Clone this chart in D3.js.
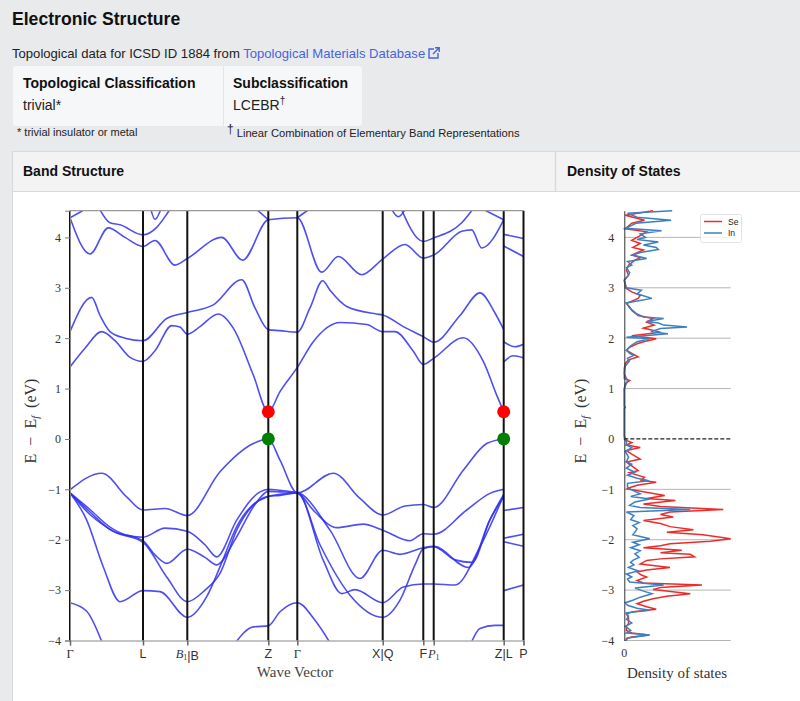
<!DOCTYPE html>
<html>
<meta charset="utf-8">
<script src="https://d3js.org/d3.v7.min.js"></script>
<style>
  body { margin: 0; background: #e9eaec; overflow: hidden; }
  svg text { font-family: "Liberation Sans", Arial, sans-serif; }
</style>
<body>
<div id="page"></div>
<script>

// ---- data ----
var kPos = [0, 0.73, 1.173, 1.983, 2.273, 3.127, 3.533, 3.637, 4.337, 4.535];
var kLabels = ["Γ", "L", "B1|B", "Z", "Γ", "X|Q", "F", "P1", "Z|L", "P"];
var energyTicks = [-4, -3, -2, -1, 0, 1, 2, 3, 4];

// bands along Γ-L-B1|B-Z-Γ-X|Q-F-P1-Z
var conductionBands = [
  [[0,1.43],[0.15,1.8],[0.317,2.13],[0.45,1.95],[0.6,1.62],[0.73,1.54],[0.85,1.75],[1.017,2.25],[1.1,2.22],[1.173,2.08],[1.3,2.23],[1.483,2.48],[1.633,2.2],[1.833,1.27],[1.983,0.54],
   [2.1,0.94],[2.273,1.42],[2.433,1.93],[2.7,2.31],[2.967,2.27],[3.127,2.13],[3.25,2.13],[3.433,1.74],[3.533,1.48],[3.637,1.6],[3.933,2.01],[4.133,1.54],[4.267,0.87],[4.337,0.54]],
  [[0,2.13],[0.217,2.81],[0.3,2.45],[0.4,2.13],[0.55,2.0],[0.73,1.95],[0.967,2.39],[1.173,2.51],[1.433,2.66],[1.717,3.16],[1.85,2.6],[1.983,2.17],
   [2.1,2.15],[2.273,2.12],[2.4,2.6],[2.527,3.14],[2.6,2.95],[2.767,2.63],[3.067,2.48],[3.127,2.46],[3.333,2.23],[3.533,2.03],[3.637,1.92],[3.9,2.45],[4.1,2.9],[4.25,2.5],[4.337,2.17]],
  [[0,4.39],[0.2,3.67],[0.383,4.19],[0.55,4.0],[0.73,3.82],[0.85,3.94],[1.05,3.45],[1.173,3.58],[1.517,4.0],[1.727,3.55],[1.983,4.35],
   [2.273,4.39],[2.517,3.31],[2.683,3.62],[2.917,3.26],[3.127,3.57],[3.35,3.86],[3.533,3.59],[3.637,3.65],[3.917,4.12],[4.017,4.15],[4.117,3.79],[4.337,4.35]],
  [[0,4.39],[0.1,4.5],[0.2,4.62]],
  [[0.28,4.62],[0.4,4.29],[0.5,4.25],[0.73,4.05],[0.867,4.2],[0.967,4.46],[1.02,4.62]],
  [[0.8,4.62],[0.85,4.36],[0.92,4.62]],
  [[1.83,4.62],[1.983,4.35]],
  [[2.273,4.39],[2.35,4.5],[2.45,4.62]],
  [[3.2,4.62],[3.283,4.41],[3.37,4.62]],
  [[3.3,4.62],[3.533,3.92],[3.637,3.99],[3.917,4.29],[4.05,4.62]],
  [[4.07,4.62],[4.337,4.35]]
];

var valenceBands = [
  [[0,-1.01],[0.317,-0.68],[0.567,-1.15],[0.73,-1.41],[0.95,-1.38],[1.173,-1.52],[1.5,-0.65],[1.833,-0.09],[1.983,0],
   [2.1,-0.42],[2.273,-1.07],[2.633,-0.68],[2.9,-1.18],[3.127,-1.51],[3.35,-1.33],[3.533,-1.30],[3.637,-1.36],[3.933,-0.62],[4.167,-0.09],[4.337,0]],
  [[0,-1.07],[0.2,-1.4],[0.4,-1.75],[0.55,-1.9],[0.73,-1.95],[0.95,-1.77],[1.173,-1.83],[1.35,-2.1],[1.467,-2.34],[1.667,-1.61],[1.9,-1.05],[1.983,-1.0],
   [2.1,-1.02],[2.273,-1.07],[2.45,-1.45],[2.667,-1.76],[2.933,-1.69],[3.127,-1.81],[3.4,-2.02],[3.533,-1.88],[3.637,-1.89],[3.967,-1.41],[4.2,-1.08],[4.337,-1.0]],
  [[0,-1.07],[0.2,-1.45],[0.4,-1.8],[0.73,-2.02],[0.85,-2.3],[0.967,-2.47],[1.173,-2.19],[1.35,-2.35],[1.467,-2.5],[1.65,-2.0],[1.85,-1.3],[1.983,-1.04],
   [2.1,-1.05],[2.273,-1.07],[2.6,-1.81],[2.9,-2.77],[3.127,-2.21],[3.3,-2.29],[3.533,-2.16],[3.637,-2.13],[3.983,-2.55],[4.2,-1.6],[4.337,-1.14]],
  [[0,-1.07],[0.2,-1.5],[0.45,-1.85],[0.73,-2.05],[0.967,-2.74],[1.173,-3.23],[1.35,-3.0],[1.5,-2.67],[1.667,-1.81],[1.9,-1.2],[1.983,-1.14],
   [2.1,-1.12],[2.273,-1.07],[2.533,-2.41],[2.717,-3.07],[2.85,-2.99],[3.127,-3.25],[3.333,-2.94],[3.533,-2.88],[3.637,-2.88],[3.85,-2.9],[4.1,-2.14],[4.337,-1.12]],
  [[0,-1.07],[0.167,-1.61],[0.333,-2.54],[0.5,-3.23],[0.73,-3.01],[0.9,-3.03],[1.173,-3.54],[1.367,-3.13],[1.5,-2.54],[1.667,-1.74],[1.983,-1.14],
   [2.1,-1.1],[2.273,-1.07],[2.5,-2.1],[2.8,-3.1],[3.127,-3.54],[3.3,-3.2],[3.45,-2.5],[3.533,-2.18],[3.637,-2.14],[3.85,-2.4],[4.02,-2.45],[4.2,-1.6],[4.337,-1.1]],
  [[0,-3.25],[0.167,-3.42],[0.333,-4.1]],
  [[1.633,-4.1],[1.833,-3.73],[1.983,-3.71],[2.1,-3.43],[2.273,-3.25],[2.45,-3.6],[2.617,-4.1]],
  [[4.0,-4.1],[4.1,-3.76],[4.25,-3.70],[4.337,-3.70]]
];

// short L-P segment after Z|L
var lastSegmentBands = [
  [[4.337,4.06],[4.535,3.98]],
  [[4.337,3.83],[4.535,3.62]],
  [[4.337,1.93],[4.45,1.83],[4.535,1.88]],
  [[4.337,1.53],[4.43,1.65],[4.535,1.61]],
  [[4.337,-1.42],[4.535,-1.36]],
  [[4.337,-1.97],[4.535,-1.89]],
  [[4.337,-2.04],[4.535,-2.13]],
  [[4.337,-3.01],[4.535,-2.90]]
];

var cbmPoints = [[1.983, 0.54], [4.337, 0.54]];
var vbmPoints = [[1.983, 0], [4.337, 0]];

// density of states [energy, value]
var dosSe = [[4.53,0.27],[4.44,0.01],[4.34,0.19],[4.28,0.07],[4.17,0.01],[4.11,0.21],[4.0,0.12],[3.94,0.07],[3.88,0.15],[3.8,0.08],[3.75,0.18],[3.65,0.07],[3.6,0.15],[3.55,0.1],[3.45,0.04],[3.35,0.02],[3.25,0.04],[3.15,0],[3.0,0.01],[2.92,0.07],[2.85,0.15],[2.79,0.13],[2.69,0.02],[2.62,0.05],[2.55,0.07],[2.45,0.13],[2.39,0.27],[2.32,0.21],[2.26,0.28],[2.2,0.18],[2.12,0.34],[2.05,0.07],[1.99,0.3],[1.93,0.18],[1.89,0.12],[1.82,0.05],[1.76,0.02],[1.7,0.07],[1.63,0.13],[1.57,0.04],[1.5,0.01],[1.4,0],[1.2,0],[1.16,0.05],[1.1,0.01],[1.0,0],[0.05,0],
  [-0.03,0.02],[-0.07,0.07],[-0.12,0.02],[-0.17,0.15],[-0.23,0.02],[-0.3,0.07],[-0.4,0.15],[-0.46,0.02],[-0.55,0.08],[-0.63,0.13],[-0.67,0.05],[-0.76,0.19],[-0.82,0.16],[-0.86,0.3],[-0.92,0.12],[-0.99,0.02],[-1.05,0.18],[-1.12,0.38],[-1.18,0.21],[-1.22,0.48],[-1.29,0.18],[-1.34,0.34],[-1.4,0.93],[-1.45,0.43],[-1.5,0.34],[-1.55,0.46],[-1.62,0.18],[-1.68,0.34],[-1.74,0.43],[-1.8,0.65],[-1.85,0.4],[-1.9,0.74],[-1.98,1.0],[-2.03,0.81],[-2.08,0.43],[-2.12,0.34],[-2.16,0.18],[-2.21,0.54],[-2.26,0.34],[-2.29,0.62],[-2.34,0.66],[-2.38,0.34],[-2.41,0.21],[-2.48,0.15],[-2.55,0.43],[-2.6,0.21],[-2.64,0.12],[-2.7,0.16],[-2.74,0.21],[-2.81,0.12],[-2.86,0.18],[-2.9,0.73],[-2.95,0.34],[-2.99,0.27],[-3.07,0.62],[-3.12,0.4],[-3.17,0.27],[-3.22,0.18],[-3.27,0.12],[-3.33,0.21],[-3.38,0.3],[-3.43,0.08],[-3.47,0.02],[-3.55,0.04],[-3.66,0.04],[-3.72,0.02],[-3.8,0.02],[-3.85,0.07],[-3.89,0.23],[-3.93,0.07],[-3.96,0.02],[-4.05,0.01]];

var dosIn = [[4.53,0.45],[4.48,0.03],[4.4,0.12],[4.34,0.44],[4.28,0.11],[4.22,0.05],[4.18,0.01],[4.13,0.35],[4.07,0.15],[4.0,0.2],[3.96,0.12],[3.91,0.32],[3.85,0.18],[3.8,0.3],[3.76,0.32],[3.7,0.15],[3.65,0.08],[3.58,0.21],[3.52,0.03],[3.45,0.07],[3.4,0.02],[3.3,0.05],[3.25,0.04],[3.15,0],[3.0,0.02],[2.95,0.16],[2.88,0.12],[2.79,0.26],[2.7,0.02],[2.6,0.05],[2.55,0.08],[2.48,0.12],[2.42,0.18],[2.39,0.37],[2.33,0.21],[2.3,0.32],[2.26,0.37],[2.22,0.59],[2.19,0.34],[2.13,0.25],[2.09,0.41],[2.02,0.02],[1.99,0.24],[1.93,0.12],[1.85,0.06],[1.76,0.02],[1.7,0.05],[1.66,0.09],[1.6,0.03],[1.55,0.05],[1.45,0.01],[1.3,0],[1.15,0.03],[1.1,0.02],[1.0,0],[0.66,0],[0.63,0.01],[0.6,0],[0.0,0],
  [-0.05,0.02],[-0.12,0.02],[-0.17,0.07],[-0.25,0.01],[-0.36,0.04],[-0.45,0.02],[-0.5,0.07],[-0.58,0.02],[-0.66,0.1],[-0.72,0.03],[-0.78,0.12],[-0.83,0.23],[-0.88,0.03],[-0.95,0.03],[-1.0,0.06],[-1.09,0.15],[-1.14,0.06],[-1.19,0.24],[-1.25,0.1],[-1.32,0.05],[-1.36,0.15],[-1.4,0.62],[-1.45,0.02],[-1.52,0.09],[-1.6,0.06],[-1.66,0.14],[-1.72,0.08],[-1.78,0.12],[-1.82,0.11],[-1.9,0.08],[-1.98,0.24],[-2.05,0.08],[-2.1,0.14],[-2.16,0.06],[-2.22,0.15],[-2.28,0.1],[-2.35,0.14],[-2.41,0.08],[-2.45,0.06],[-2.5,0.09],[-2.55,0.04],[-2.62,0.13],[-2.68,0.02],[-2.74,0.07],[-2.78,0.03],[-2.84,0.05],[-2.9,0.37],[-2.96,0.1],[-3.02,0.18],[-3.07,0.26],[-3.14,0.15],[-3.2,0.08],[-3.25,0.01],[-3.3,0.03],[-3.36,0.12],[-3.4,0.24],[-3.45,0.02],[-3.52,0.04],[-3.58,0.02],[-3.65,0.07],[-3.72,0.01],[-3.8,0.06],[-3.85,0.02],[-3.89,0.24],[-3.95,0.03],[-4.05,0.01]];

// ---- page ----
var svg = d3.select("#page").append("svg")
    .attr("width", 800)
    .attr("height", 701);

svg.append("rect").attr("width", 800).attr("height", 701).attr("fill", "#e9eaec");

svg.append("text").attr("x", 12).attr("y", 24.5)
    .style("font-size", "17.6px").style("font-weight", "bold").attr("fill", "#111")
    .text("Electronic Structure");

var sub = svg.append("text").attr("x", 12).attr("y", 58)
    .style("font-size", "13.1px").attr("fill", "#222");
sub.append("tspan").text("Topological data for ICSD ID 1884 from ");
sub.append("tspan").attr("fill", "#4a62e0").text("Topological Materials Database");

// external link icon
var ic = svg.append("g").attr("transform", "translate(428,47)")
    .attr("fill", "none").attr("stroke", "#4a62e0").attr("stroke-width", 1.4);
ic.append("path").attr("d", "M6,2 H1 V11 H10 V6");
ic.append("path").attr("d", "M7,0.8 H11.2 V5 M11.2,0.8 L5,7");

// classification table
svg.append("rect").attr("x", 13).attr("y", 66).attr("width", 349).attr("height", 60)
    .attr("rx", 3).attr("fill", "#f6f7f8");
svg.append("line").attr("x1", 223.5).attr("x2", 223.5).attr("y1", 66).attr("y2", 126)
    .attr("stroke", "#e4e5e7");
svg.append("text").attr("x", 23).attr("y", 88).style("font-size", "14px").style("font-weight", "bold")
    .attr("fill", "#111").text("Topological Classification");
svg.append("text").attr("x", 233).attr("y", 88).style("font-size", "14px").style("font-weight", "bold")
    .attr("fill", "#111").text("Subclassification");
svg.append("text").attr("x", 23).attr("y", 110).style("font-size", "14px").attr("fill", "#222").text("trivial*");
var lc = svg.append("text").attr("x", 233).attr("y", 110).style("font-size", "14px").attr("fill", "#222");
lc.append("tspan").text("LCEBR");
lc.append("tspan").attr("dy", -6).style("font-size", "10px").text("†");

svg.append("text").attr("x", 17).attr("y", 136).style("font-size", "11px").attr("fill", "#222")
    .text("* trivial insulator or metal");
var fn = svg.append("text").attr("x", 227).attr("y", 137).style("font-size", "11.2px").attr("fill", "#222");
fn.append("tspan").attr("dy", -4).style("font-size", "12px").text("†");
fn.append("tspan").attr("dy", 4).attr("dx", 3).text("Linear Combination of Elementary Band Representations");

// card
svg.append("rect").attr("x", 12.5).attr("y", 151.5).attr("width", 800).attr("height", 560)
    .attr("fill", "#fff").attr("stroke", "#d9d9d9");
svg.append("rect").attr("x", 12.5).attr("y", 151.5).attr("width", 800).attr("height", 40)
    .attr("fill", "#f3f3f3").attr("stroke", "#d9d9d9");
svg.append("line").attr("x1", 555.5).attr("x2", 555.5).attr("y1", 151.5).attr("y2", 191.5)
    .attr("stroke", "#d9d9d9").attr("stroke-width", 1.5);
svg.append("text").attr("x", 23).attr("y", 176).style("font-size", "14px").style("font-weight", "bold")
    .attr("fill", "#111").text("Band Structure");
svg.append("text").attr("x", 567).attr("y", 176).style("font-size", "14px").style("font-weight", "bold")
    .attr("fill", "#111").text("Density of States");

// ---- band structure ----
var serif = '"Liberation Serif", "DejaVu Serif", serif';
var x = d3.scaleLinear().domain([0, 4.535]).range([70, 523.5]);
var y = d3.scaleLinear().domain([-4, 4.53]).range([640.5, 210.7]);

svg.append("clipPath").attr("id", "bandClip").append("rect")
    .attr("x", 70).attr("y", 210.7).attr("width", 453.5).attr("height", 429.8);

var bandLine = d3.line()
    .x(function(d) { return x(d[0]); })
    .y(function(d) { return y(d[1]); })
    .curve(d3.curveMonotoneX);

var bandG = svg.append("g").attr("clip-path", "url(#bandClip)");
bandG.selectAll(".band")
    .data(conductionBands.concat(valenceBands, lastSegmentBands))
    .enter()
    .append("path")
      .attr("d", bandLine)
      .attr("fill", "none")
      .attr("stroke", "#2f2ff2")
      .attr("stroke-opacity", 0.85)
      .attr("stroke-width", 1.6);

// symmetry lines
svg.selectAll(".kline")
    .data(kPos)
    .enter()
    .append("line")
      .attr("x1", function(d) { return x(d); })
      .attr("x2", function(d) { return x(d); })
      .attr("y1", y(4.53))
      .attr("y2", y(-4))
      .attr("stroke", "#111")
      .attr("stroke-width", 2);

// frame
svg.append("line").attr("x1", 70).attr("x2", 523.5).attr("y1", 210.7).attr("y2", 210.7)
    .attr("stroke", "#999").attr("stroke-width", 1.2);

var yAxis = svg.append("g")
    .attr("transform", "translate(70,0)")
    .call(d3.axisLeft(y).tickValues(energyTicks).tickSize(5).tickPadding(4)
      .tickFormat(function(d) { return d < 0 ? "\u2212" + Math.abs(d) : d; }));
yAxis.select(".domain").attr("stroke", "#888");
yAxis.selectAll(".tick line").attr("stroke", "#777");
yAxis.selectAll("text").style("font-family", serif).style("font-size", "12px").attr("fill", "#333");

var xAxis = svg.append("g")
    .attr("transform", "translate(0," + y(-4) + ")")
    .call(d3.axisBottom(x).tickValues(kPos).tickSize(5).tickFormat(""));
xAxis.select(".domain").attr("stroke", "#888");
xAxis.selectAll(".tick line").attr("stroke", "#666").attr("stroke-width", 1.5);

// k-point labels, mixing math (serif) and plain letters
kLabels.forEach(function(lab, i) {
  var t = svg.append("text")
      .attr("x", x(kPos[i]))
      .attr("y", 658)
      .attr("text-anchor", "middle")
      .style("font-size", "12.5px")
      .attr("fill", "#333");
  lab.split("|").forEach(function(part, j) {
    if (j > 0) t.append("tspan").text("|");
    if (part === "Γ") {
      t.append("tspan").style("font-family", serif).text("Γ");
    } else if (part.slice(-1) === "1") {
      t.append("tspan").style("font-family", serif).style("font-style", "italic").text(part[0]);
      t.append("tspan").style("font-family", serif).style("font-size", "8px").attr("dy", 2).text("1");
      t.append("tspan").attr("dy", -2).text("");
    } else {
      t.append("tspan").text(part);
    }
  });
});

svg.append("text").attr("x", 295).attr("y", 677).attr("text-anchor", "middle")
    .style("font-family", serif).style("font-size", "15px").attr("fill", "#444")
    .text("Wave Vector");

function energyLabel(cx, cy) {
  var t = svg.append("text")
      .attr("transform", "translate(" + cx + "," + cy + ") rotate(-90)")
      .attr("text-anchor", "middle")
      .style("font-family", serif).style("font-size", "16px").attr("fill", "#333")
      .attr("xml:space", "preserve");
  t.append("tspan").text("E  \u2212  E");
  t.append("tspan").attr("dy", 3).style("font-size", "10.5px").style("font-style", "italic").text("f");
  t.append("tspan").attr("dy", -3).text("  (eV)");
}
energyLabel(36, 421);

// band edge markers
svg.selectAll(".cbm").data(cbmPoints).enter().append("circle")
    .attr("cx", function(d) { return x(d[0]); })
    .attr("cy", function(d) { return y(d[1]); })
    .attr("r", 6.5).attr("fill", "#ff0000");
svg.selectAll(".vbm").data(vbmPoints).enter().append("circle")
    .attr("cx", function(d) { return x(d[0]); })
    .attr("cy", function(d) { return y(d[1]); })
    .attr("r", 6.5).attr("fill", "#007f00");

// ---- density of states ----
var xd = d3.scaleLinear().domain([0, 1]).range([624.3, 730.7]);

svg.selectAll(".dgrid")
    .data(energyTicks.filter(function(d) { return d !== 0; }))
    .enter()
    .append("line")
      .attr("x1", xd(0)).attr("x2", xd(1))
      .attr("y1", function(d) { return y(d); })
      .attr("y2", function(d) { return y(d); })
      .attr("stroke", "#b5b5b5").attr("stroke-width", 1);

svg.append("clipPath").attr("id", "dosClip").append("rect")
    .attr("x", 620).attr("y", 208).attr("width", 130).attr("height", 433);

var dosLine = d3.line()
    .x(function(d) { return xd(d[1]); })
    .y(function(d) { return y(d[0]); });

var dosG = svg.append("g").attr("clip-path", "url(#dosClip)");
dosG.append("path").datum(dosSe).attr("d", dosLine)
    .attr("fill", "none").attr("stroke", "#ee2b2b").attr("stroke-width", 1.5);
dosG.append("path").datum(dosIn).attr("d", dosLine)
    .attr("fill", "none").attr("stroke", "#3c7fc2").attr("stroke-width", 1.5);

svg.append("line").attr("x1", xd(0)).attr("x2", xd(1)).attr("y1", y(0)).attr("y2", y(0))
    .attr("stroke", "#222").attr("stroke-width", 1.3).attr("stroke-dasharray", "4,2");

var dAxis = svg.append("g")
    .attr("transform", "translate(" + xd(0) + ",0)")
    .call(d3.axisLeft(y).tickValues(energyTicks).tickSize(0).tickPadding(10)
      .tickFormat(function(d) { return d < 0 ? "\u2212" + Math.abs(d) : d; }));
dAxis.select(".domain").attr("stroke", "#333");
dAxis.selectAll("text").style("font-family", serif).style("font-size", "12px").attr("fill", "#333");

svg.append("text").attr("x", xd(0)).attr("y", 657).attr("text-anchor", "middle")
    .style("font-family", serif).style("font-size", "12px").attr("fill", "#333").text("0");
svg.append("text").attr("x", 677).attr("y", 678).attr("text-anchor", "middle")
    .style("font-family", serif).style("font-size", "15px").attr("fill", "#333")
    .text("Density of states");
energyLabel(586, 421);

// legend
var legend = svg.append("g");
legend.append("rect").attr("x", 700.5).attr("y", 214.5).attr("width", 41).attr("height", 28)
    .attr("rx", 2).attr("fill", "#fff").attr("fill-opacity", 0.8).attr("stroke", "#e3e3e3");
[["Se", "#ee2b2b"], ["In", "#3c7fc2"]].forEach(function(d, i) {
  legend.append("line").attr("x1", 704).attr("x2", 722)
      .attr("y1", 221.5 + i * 11.5).attr("y2", 221.5 + i * 11.5)
      .attr("stroke", d[1]).attr("stroke-width", 1.5);
  legend.append("text").attr("x", 728).attr("y", 224.5 + i * 11.5)
      .style("font-size", "8.5px").attr("fill", "#222").text(d[0]);
});

</script>
</body>
</html>
